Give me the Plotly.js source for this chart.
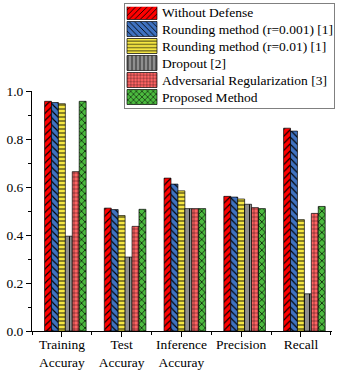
<!DOCTYPE html>
<html>
<head>
<meta charset="utf-8">
<script src="https://cdn.plot.ly/plotly-3.0.1.min.js"></script>
<style>html,body{margin:0;padding:0;background:#fff;}#chart{width:339px;height:372px;}</style>
</head>
<body>
<div id="chart"></div>
<script>
const categories = ["Training<br>Accuray", "Test<br>Accuray", "Inference<br>Accuray", "Precision", "Recall"];
const seriesNames = ["Without Defense", "Rounding method (r=0.001) [1]", "Rounding method (r=0.01) [1]", "Dropout [2]", "Adversarial Regularization [3]", "Proposed Method"];
const withoutDefense = [0.957, 0.512, 0.637, 0.561, 0.845];
const rounding001 = [0.952, 0.506, 0.612, 0.558, 0.833];
const rounding01 = [0.947, 0.481, 0.584, 0.550, 0.464];
const dropout = [0.395, 0.308, 0.510, 0.528, 0.155];
const advReg = [0.664, 0.436, 0.510, 0.514, 0.490];
const proposed = [0.957, 0.507, 0.510, 0.510, 0.519];
const yTickVals = [0, 0.2, 0.4, 0.6, 0.8, 1.0];

const seriesValues = [withoutDefense, rounding001, rounding01, dropout, advReg, proposed];
const colors = ["#FF0000", "#3F72C0", "#F5E642", "#8F8F8F", "#FF6464", "#4CBB3F"];
const shapes = ["/", "\\", "-", "|", "+", "x"];
const patSize = [5, 5, 4, 5, 4, 5];
const patSol = [0.22, 0.22, 0.22, 0.18, 0.18, 0.25];
const xIdx = categories.map((c, i) => i);
const w = 0.116;

const traces = seriesValues.map((vals, k) => ({
  type: "bar",
  name: seriesNames[k],
  x: xIdx,
  y: vals,
  width: w,
  offset: (k - 2.5) * w,
  marker: {
    color: colors[k],
    line: {color: "rgba(0,0,0,0.85)", width: 0.8},
    pattern: {shape: shapes[k], fgcolor: "#000", bgcolor: colors[k], fillmode: "replace", size: patSize[k], solidity: patSol[k]}
  }
}));

const font = {family: "Liberation Serif", size: 13.5, color: "#000"};
const layout = {
  width: 339, height: 372,
  margin: {l: 32, r: 6, t: 89, b: 41, pad: 0},
  paper_bgcolor: "#fff", plot_bgcolor: "#fff",
  font: font,
  barmode: "overlay",
  showlegend: true,
  legend: {
    x: 1.005, xanchor: "right", y: 1.355, yanchor: "top",
    bgcolor: "#fff", bordercolor: "#808080", borderwidth: 1,
    font: font, tracegroupgap: 0, traceorder: "normal"
  },
  xaxis: {
    range: [-0.5, 4.52],
    tickmode: "array", tickvals: xIdx, ticktext: categories,
    ticks: "outside", ticklen: 5, tickwidth: 1, tickcolor: "#000",
    ticklabelstandoff: -4,
    minor: {ticks: "outside", tickmode: "linear", tick0: 0.5, dtick: 1, ticklen: 3, tickcolor: "#000"},
    showline: true, linecolor: "#000", linewidth: 1,
    showgrid: false, zeroline: false, fixedrange: true,
    tickfont: font
  },
  yaxis: {
    range: [0, 1.0],
    tickmode: "array", tickvals: yTickVals, tickformat: ".1f",
    ticks: "outside", ticklen: 5, tickwidth: 1, tickcolor: "#000",
    minor: {ticks: "outside", tickmode: "linear", tick0: 0.1, dtick: 0.2, ticklen: 3, tickcolor: "#000"},
    showline: true, linecolor: "#000", linewidth: 1,
    showgrid: false, zeroline: false, fixedrange: true,
    tickfont: font
  }
};

function parseT(el) {
  const t = el.getAttribute("transform") || "";
  const m = t.match(/translate\(([-\d.e]+)[ ,]*([-\d.e]*)\)/);
  return m ? [parseFloat(m[1]), parseFloat(m[2] || 0)] : [0, 0];
}

Plotly.newPlot("chart", traces, layout, {displayModeBar: false, staticPlot: true}).then(() => {
  const leg = document.querySelector("#chart g.legend");
  const items = Array.from(leg.querySelectorAll("g.traces"));
  // wide swatches like the reference
  leg.querySelectorAll("g.legendpoints path").forEach(p => p.setAttribute("d", "M15,7.5H-15V-7.5H15Z"));
  // horizontal: put first label text at x=162
  const txt0 = items[0].querySelector("text.legendtext");
  const dx = 162 - txt0.getBoundingClientRect().left;
  const lt = parseT(leg);
  leg.setAttribute("transform", "translate(" + (lt[0] + dx) + "," + lt[1] + ")");
  // vertical: swatch centers at 12 + 17*i
  items.forEach((g, i) => {
    const sw = g.querySelector("g.legendpoints path");
    const r = sw.getBoundingClientRect();
    const cy = (r.top + r.bottom) / 2;
    const tr = parseT(g);
    g.setAttribute("transform", "translate(" + tr[0] + "," + (tr[1] + (12 + 17 * i - cy)) + ")");
  });
  // box: 124..334 x 3..108
  const bg = leg.querySelector("rect.bg");
  const br = bg.getBoundingClientRect();
  const bx = parseFloat(bg.getAttribute("x") || 0), by = parseFloat(bg.getAttribute("y") || 0);
  bg.setAttribute("x", bx + (124 - br.left));
  bg.setAttribute("y", by + (3 - br.top));
  bg.setAttribute("width", 210);
  bg.setAttribute("height", 105);
});
</script>
</body>
</html>
